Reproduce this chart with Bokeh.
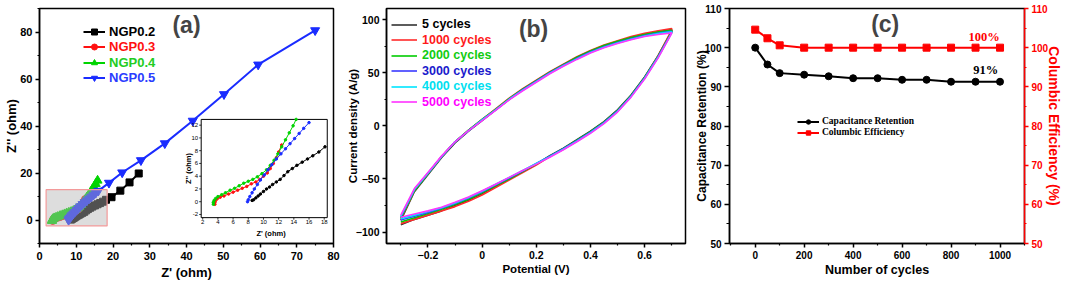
from bokeh.plotting import figure
from bokeh.layouts import row
from bokeh.models import Range1d, LinearAxis, Legend, LegendItem, Label, FixedTicker
from bokeh.core.properties import value
from bokeh.embed import file_html
from bokeh.resources import INLINE

SANS = "Liberation Sans"
SERIF = "Liberation Serif"
GREEN = "#00d400"
BLUE = "#1a2cff"

# ---------------- (a) Nyquist data ----------------
ngp02_re = [8.5, 8.7, 9.0, 9.3, 9.6, 10.0, 10.4, 10.8, 11.2, 11.7, 12.2, 12.7, 13.2, 13.8, 14.4, 15.1, 15.8, 16.5, 17.3, 18.1, 19.6, 22.0, 24.5, 27.0]
ngp02_im = [0.2, 0.3, 0.6, 0.9, 1.2, 1.6, 2.0, 2.3, 2.7, 3.1, 3.5, 4.1, 4.7, 5.2, 5.7, 6.2, 6.7, 7.2, 7.8, 8.6, 9.7, 12.5, 16.0, 19.8]
ngp03_re = [3.6, 3.6, 3.7, 3.9, 4.3, 4.8, 5.4, 6.0, 6.6, 7.2, 7.8, 8.4, 9.0, 9.5, 10.0, 10.5, 10.9, 11.3, 11.7, 12.0, 12.4]
ngp03_im = [-0.4, -0.1, 0.2, 0.45, 0.7, 0.9, 1.2, 1.5, 1.8, 2.1, 2.4, 2.8, 3.1, 3.5, 4.0, 4.5, 5.2, 6.0, 6.9, 7.8, 8.9]
ngp04_re = [3.4, 3.4, 3.5, 3.7, 4.0, 4.5, 5.0, 5.6, 6.2, 6.8, 7.4, 8.0, 8.6, 9.2, 9.8, 10.4, 10.9, 11.4, 11.9, 12.4, 12.9, 13.4, 13.9, 14.3, 14.8, 15.3, 15.8]
ngp04_im = [-0.4, -0.1, 0.2, 0.5, 0.8, 1.1, 1.4, 1.8, 2.1, 2.5, 2.9, 3.2, 3.5, 3.9, 4.4, 5.0, 5.7, 6.5, 7.5, 8.6, 9.7, 10.8, 11.9, 12.9, 14.1, 15.4, 16.8]
ngp05_re = [7.9, 8.0, 8.2, 8.5, 8.8, 9.2, 9.6, 10.1, 10.6, 11.1, 11.7, 12.3, 12.9, 13.5, 14.1, 14.7, 15.3, 16.0, 18.9, 22.5, 27.6, 34.1, 41.7, 50.2, 59.5, 75.0]
ngp05_im = [0.0, 0.3, 0.8, 1.4, 2.0, 2.7, 3.4, 4.2, 5.0, 5.8, 6.7, 7.5, 8.3, 9.1, 9.9, 10.7, 11.5, 12.4, 15.8, 20.2, 25.4, 32.6, 42.2, 53.5, 66.1, 80.7]
a_labels = ["NGP0.2", "NGP0.3", "NGP0.4", "NGP0.5"]
a_xticks = [0, 10, 20, 30, 40, 50, 60, 70, 80]
a_xminor = [5, 15, 25, 35, 45, 55, 65, 75]
a_yticks = [0, 20, 40, 60, 80]
a_yminor = [-10, 10, 30, 50, 70, 90]
inset_xticks = [2, 4, 6, 8, 10, 12, 14, 16, 18]
inset_yticks = [-2, 0, 2, 4, 6, 8, 10, 12]

# ---------------- (b) CV data ----------------
cv_pot = [-0.30, -0.25, -0.20, -0.15, -0.10, -0.05, 0.00, 0.05, 0.10, 0.15, 0.20, 0.25, 0.30, 0.35, 0.40, 0.45, 0.50, 0.55, 0.60, 0.65, 0.70,
          0.70, 0.65, 0.60, 0.55, 0.50, 0.45, 0.40, 0.35, 0.30, 0.25, 0.20, 0.15, 0.10, 0.05, 0.00, -0.05, -0.10, -0.15, -0.20, -0.25, -0.30]
cv_5 = [-89, -62, -46, -30, -16, -5, 5, 15, 25, 34, 42, 50, 57, 64, 70, 75, 79, 83, 86, 88.5, 90.5,
        89, 66, 46, 29, 15, 4, -5, -13, -21, -28, -36, -43, -50, -57, -64, -70, -75, -80, -84, -88, -93]
cv_1000 = [-88, -61, -45, -29, -15, -4, 6, 16, 26, 35, 43, 51, 58, 65, 71, 76, 80, 84, 87, 89.5, 91.5,
           90, 66, 45, 28, 14, 3, -6, -14, -22, -29, -37, -44, -51, -58, -65, -71, -76, -80, -84, -88, -92]
cv_2000 = [-87, -61, -45, -29, -15, -4, 6, 15.5, 25.5, 34.5, 42.5, 50.5, 57.5, 64.5, 70.5, 75.5, 79.5, 83, 86, 88.2, 90,
           88.5, 65.5, 45.5, 28.5, 14.5, 3.5, -5.5, -13.5, -21.5, -28.5, -36, -43, -50, -56.5, -63, -69, -74, -78.5, -82.5, -86.5, -90.5]
cv_3000 = [-86, -60, -44.5, -29, -15, -4.5, 5.5, 15, 25, 34, 42, 50, 57, 63.5, 69.5, 74.5, 78.5, 82, 85, 87.3, 89,
           88, 65, 45, 28, 14, 3, -6, -14, -21.5, -28.5, -35.5, -42.5, -49, -55.5, -62, -68, -73, -77.5, -81.5, -85, -88.5]
cv_4000 = [-85, -60, -44.5, -29, -15, -4.5, 5.5, 15, 25, 33.5, 41.5, 49.5, 56.5, 63, 69, 74, 78, 81.5, 84.5, 86.8, 88.5,
           87.5, 64.5, 44.5, 27.5, 13.5, 2.5, -6.5, -14.5, -22, -29, -35.5, -42, -48.5, -55, -61.5, -67.5, -72.5, -77, -80.5, -84, -87.5]
cv_5000 = [-84, -59, -44, -28.5, -15, -4.5, 5, 14.5, 24.5, 33, 41, 49, 56, 62.5, 68.5, 73.5, 77.5, 81, 84, 86, 87.5,
           87, 64, 44, 27, 13, 2, -7, -15, -22.5, -29.5, -36, -42, -48.5, -55, -61, -67, -72, -76.5, -80, -83, -86]
b_labels = ["5 cycles", "1000 cycles", "2000 cycles", "3000 cycles", "4000 cycles", "5000 cycles"]
b_xticks = [-0.2, 0.0, 0.2, 0.4, 0.6]
b_xminor = [-0.3, -0.1, 0.1, 0.3, 0.5, 0.7]
b_yticks = [-100, -50, 0, 50, 100]
b_yminor = [-75, -25, 25, 75]

# ---------------- (c) cycling data ----------------
cycles = [0, 50, 100, 200, 300, 400, 500, 600, 700, 800, 900, 1000]
retention = [100.0, 95.7, 93.5, 93.1, 92.7, 92.2, 92.2, 91.8, 91.8, 91.3, 91.3, 91.3]
efficiency = [104.6, 102.4, 100.6, 100.0, 100.0, 100.0, 100.0, 100.0, 100.0, 100.0, 100.0, 100.0]
c_labels = ["Capacitance Retention", "Columbic Efficiency"]
c_xticks = [0, 200, 400, 600, 800, 1000]
c_xminor = [-100, 100, 300, 500, 700, 900, 1100]
c_yticks = [50, 60, 70, 80, 90, 100, 110]
c_yminor = [55, 65, 75, 85, 95, 105]


def base_fig(width, xr, yr, left, right, top, bottom):
    p = figure(width=width, height=282, x_range=xr, y_range=yr, title=None,
               output_backend="svg", toolbar_location=None,
               min_border_left=left, min_border_right=right,
               min_border_top=top, min_border_bottom=bottom)
    p.xgrid.visible = False
    p.ygrid.visible = False
    p.outline_line_color = "black"
    p.outline_line_width = 1.5
    p.outline_line_alpha = 1
    p.background_fill_color = "white"
    p.border_fill_color = "white"
    return p


def style_axis(ax, tick_px, label_px, color="black", tick_out=4, minor_out=2,
               label_standoff=4, tick_standoff=2):
    ax.axis_line_color = color
    ax.axis_line_width = 1.5
    ax.major_tick_line_color = color
    ax.minor_tick_line_color = color
    ax.major_tick_line_width = 1.5
    ax.minor_tick_line_width = 1.2
    ax.major_tick_in = 0
    ax.major_tick_out = tick_out
    ax.minor_tick_in = 0
    ax.minor_tick_out = minor_out
    ax.major_label_text_font = SANS
    ax.major_label_text_font_style = "bold"
    ax.major_label_text_font_size = tick_px
    ax.major_label_text_color = color
    ax.major_label_standoff = tick_standoff
    ax.axis_label_text_font = SANS
    ax.axis_label_text_font_style = "bold"
    ax.axis_label_text_font_size = label_px
    ax.axis_label_text_color = color
    ax.axis_label_standoff = label_standoff


def add_key(p, label, renderers, color, x, y, font, size, style, glyph_w, standoff, h):
    leg = Legend(items=[LegendItem(label=label, renderers=renderers)], location=(x, y),
                 padding=0, margin=0, spacing=0, border_line_color=None,
                 background_fill_alpha=0, glyph_width=glyph_w, glyph_height=h,
                 label_height=h, label_standoff=standoff, label_text_font=font,
                 label_text_font_size=size, label_text_font_style=style,
                 label_text_color=color, label_text_baseline="middle")
    p.add_layout(leg)


# =============================== panel (a) ===============================
A_X = (0, 80)
A_Y = (-10, 90)
pa = base_fig(343, Range1d(*A_X), Range1d(*A_Y), 39, 10, 7, 39)
FA_W, FA_H = 343 - 39 - 10, 282 - 7 - 39
pa.xaxis.ticker = FixedTicker(ticks=a_xticks, minor_ticks=a_xminor)
pa.yaxis.ticker = FixedTicker(ticks=a_yticks, minor_ticks=a_yminor)
pa.xaxis.axis_label = "Z' (ohm)"
pa.yaxis.axis_label = "Z'' (ohm)"
style_axis(pa.xaxis[0], "11px", "13px", label_standoff=2, tick_standoff=4)
style_axis(pa.yaxis[0], "11px", "13px", label_standoff=-2, tick_standoff=3)

a_series = [
    (ngp02_re, ngp02_im, "black", "square", 7),
    (ngp03_re, ngp03_im, "#ff1010", "circle", 7),
    (ngp04_re, ngp04_im, GREEN, "triangle", 9),
    (ngp05_re, ngp05_im, BLUE, "inverted_triangle", 9),
]
a_text_colors = ["black", "#ff1010", "#22cc22", "#2a3cff"]
a_rend = []
for xs, ys, col, mk, sz in a_series:
    ln = pa.line(xs, ys, line_color=col, line_width=2)
    sc = pa.scatter(xs, ys, marker=mk, size=sz, fill_color=col, line_color=col)
    a_rend.append([ln, sc])

# inset ranges (zoomed region) and where the inset frame sits (main data coords)
inset_x = (1.8, 18.4)
inset_y = (-2.5, 12.9)
INSET_BOX = (44.0, 78.3, 1.0, 42.8)

# highlighted zoom region on the main plot
pa.quad(left=inset_x[0], right=inset_x[1], bottom=inset_y[0], top=inset_y[1],
        fill_color="#b4b4b4", fill_alpha=0.45, line_color="#f39a9a", line_width=1.2)

bx0, bx1, by0, by1 = INSET_BOX
sx = (inset_x[1] - inset_x[0]) / (bx1 - bx0)
sy = (inset_y[1] - inset_y[0]) / (by1 - by0)
pa.extra_x_ranges = {"ix": Range1d(inset_x[0] - (bx0 - A_X[0]) * sx, inset_x[1] + (A_X[1] - bx1) * sx)}
pa.extra_y_ranges = {"iy": Range1d(inset_y[0] - (by0 - A_Y[0]) * sy, inset_y[1] + (A_Y[1] - by1) * sy)}
ux = sx * (A_X[1] - A_X[0]) / FA_W   # inset units per pixel
uy = sy * (A_Y[1] - A_Y[0]) / FA_H
IR = dict(x_range_name="ix", y_range_name="iy")

pa.quad(left=inset_x[0], right=inset_x[1], bottom=inset_y[0], top=inset_y[1],
        fill_color="white", line_color="black", line_width=1, **IR)
for xs, ys, col, mk, sz in a_series:
    pts = [(x, y) for x, y in zip(xs, ys)
           if inset_x[0] <= x <= inset_x[1] and inset_y[0] <= y <= inset_y[1]]
    px = [q[0] for q in pts]
    py = [q[1] for q in pts]
    pa.line(px, py, line_color=col, line_width=1, **IR)
    pa.scatter(px, py, marker="circle", size=2.5, fill_color=col, line_color=col, **IR)
# inset ticks and labels
pa.segment(x0=inset_xticks, y0=[inset_y[0]] * len(inset_xticks), x1=inset_xticks,
           y1=[inset_y[0] - 2 * uy] * len(inset_xticks), line_color="black", line_width=0.8, **IR)
pa.segment(x0=[inset_x[0]] * len(inset_yticks), y0=inset_yticks,
           x1=[inset_x[0] - 2 * ux] * len(inset_yticks), y1=inset_yticks,
           line_color="black", line_width=0.8, **IR)
pa.text(x=inset_xticks, y=[inset_y[0] - 2.5 * uy] * len(inset_xticks),
        text=[str(t) for t in inset_xticks], text_font=value(SANS), text_font_size="6px",
        text_align="center", text_baseline="top", text_color="black", **IR)
pa.text(x=[inset_x[0] - 3 * ux] * len(inset_yticks), y=inset_yticks,
        text=[str(t) for t in inset_yticks], text_font=value(SANS), text_font_size="6px",
        text_align="right", text_baseline="middle", text_color="black", **IR)
pa.text(x=[11.0], y=[inset_y[0] - 11 * uy], text=["Z' (ohm)"], text_font=value(SANS),
        text_font_size="7.5px", text_font_style="bold", text_align="center",
        text_baseline="top", text_color="black", **IR)
pa.text(x=[inset_x[0] - 12.5 * ux], y=[(inset_y[0] + inset_y[1]) / 2], text=["Z'' (ohm)"],
        angle=1.5708, text_font=value(SANS), text_font_size="7.5px", text_font_style="bold",
        text_align="center", text_baseline="middle", text_color="black", **IR)

a_key_rows = [31.7, 46.9, 62.1, 77.3]
for lab, rend, col, yc in zip(a_labels, a_rend, a_text_colors, a_key_rows):
    add_key(pa, lab, rend, col, 44, FA_H + 7 - yc - 7.5, SANS, "13px", "bold", 22, 4, 15)

pa.add_layout(Label(x=40, y=82.8, text="(a)", text_font=SANS, text_font_style="bold",
                    text_font_size="23px", text_align="center", text_baseline="middle"))

# =============================== panel (b) ===============================
pb = base_fig(347, Range1d(-0.353, 0.751), Range1d(-110.7, 110.4), 42, 5, 6, 34)
FB_H = 282 - 6 - 34
pb.xaxis.ticker = FixedTicker(ticks=b_xticks, minor_ticks=b_xminor)
pb.yaxis.ticker = FixedTicker(ticks=b_yticks, minor_ticks=b_yminor)
pb.xaxis.axis_label = "Potential (V)"
pb.yaxis.axis_label = "Current density (A/g)"
style_axis(pb.xaxis[0], "10.5px", "11.5px", label_standoff=1, tick_standoff=3)
style_axis(pb.yaxis[0], "10.5px", "11.5px", label_standoff=-6, tick_standoff=3)

b_series = [cv_5, cv_1000, cv_2000, cv_3000, cv_4000, cv_5000]
b_line_colors = ["#333333", "#ff2a2a", "#00cc00", "#3a3aff", "#00e5ff", "#ff33ff"]
b_text_colors = ["black", "#ff1a1a", "#11cc11", "#1a1acc", "#00e0f0", "#ff00ff"]
b_rend = []
for ys, col in zip(b_series, b_line_colors):
    b_rend.append(pb.line(cv_pot, ys, line_color=col, line_width=1.6))
for i, (lab, r, tc) in enumerate(zip(b_labels, b_rend, b_text_colors)):
    yc = 29 + i * 15.5
    add_key(pb, lab, [r], tc, 5, FB_H + 6 - yc - 7.5, SANS, "12.5px", "bold", 26, 5, 15)

pb.add_layout(Label(x=0.19, y=91, text="(b)", text_font=SANS, text_font_style="bold",
                    text_font_size="23px", text_align="center", text_baseline="middle"))

# =============================== panel (c) ===============================
pc = base_fig(375, Range1d(-105, 1100), Range1d(50, 110), 39, 40, 8, 36)
FC_H = 282 - 8 - 36
pc.extra_y_ranges = {"ce": Range1d(50, 110)}
right_ax = LinearAxis(y_range_name="ce")
pc.add_layout(right_ax, "right")
pc.xaxis.ticker = FixedTicker(ticks=c_xticks, minor_ticks=c_xminor)
for ax in pc.yaxis:
    ax.ticker = FixedTicker(ticks=c_yticks, minor_ticks=c_yminor)
pc.xaxis.axis_label = "Number of cycles"
pc.yaxis[0].axis_label = "Capacitance Retention (%)"
right_ax.axis_label = "Columbic Efficiency (%)"
style_axis(pc.xaxis[0], "10px", "12.5px", label_standoff=1, tick_standoff=3)
style_axis(pc.yaxis[0], "10px", "12px", tick_out=5, minor_out=3, label_standoff=-7, tick_standoff=3)
style_axis(right_ax, "10px", "14px", color="#ff0000", tick_out=4, minor_out=2,
           label_standoff=-5, tick_standoff=3)

r_ln = pc.line(cycles, retention, line_color="black", line_width=2)
r_sc = pc.scatter(cycles, retention, marker="circle", size=7, fill_color="black", line_color="black")
e_ln = pc.line(cycles, efficiency, line_color="#ff0000", line_width=2, y_range_name="ce")
e_sc = pc.scatter(cycles, efficiency, marker="square", size=7, fill_color="#ff0000",
                  line_color="#ff0000", y_range_name="ce")
c_leg = Legend(items=[LegendItem(label=c_labels[0], renderers=[r_ln, r_sc]),
                      LegendItem(label=c_labels[1], renderers=[e_ln, e_sc])],
               location=(68, FC_H + 8 - 140.5), padding=0, margin=0, spacing=0,
               border_line_color=None, background_fill_alpha=0, glyph_width=22,
               glyph_height=11, label_height=11, label_standoff=3, label_text_font=SERIF,
               label_text_font_size="9.5px", label_text_font_style="bold",
               label_text_color="black", label_text_baseline="middle")
pc.add_layout(c_leg)

pc.add_layout(Label(x=531, y=106, text="(c)", text_font=SANS, text_font_style="bold",
                    text_font_size="23px", text_align="center", text_baseline="middle"))
pc.add_layout(Label(x=935, y=102.6, text="100%", text_font=SERIF, text_font_style="bold",
                    text_font_size="12.5px", text_color="#ff0000", text_align="center",
                    text_baseline="middle"))
pc.add_layout(Label(x=942, y=94.2, text="91%", text_font=SERIF, text_font_style="bold",
                    text_font_size="12.5px", text_color="black", text_align="center",
                    text_baseline="middle"))

layout = row(pa, pb, pc)
open("out.html", "w").write(file_html(layout, INLINE))
